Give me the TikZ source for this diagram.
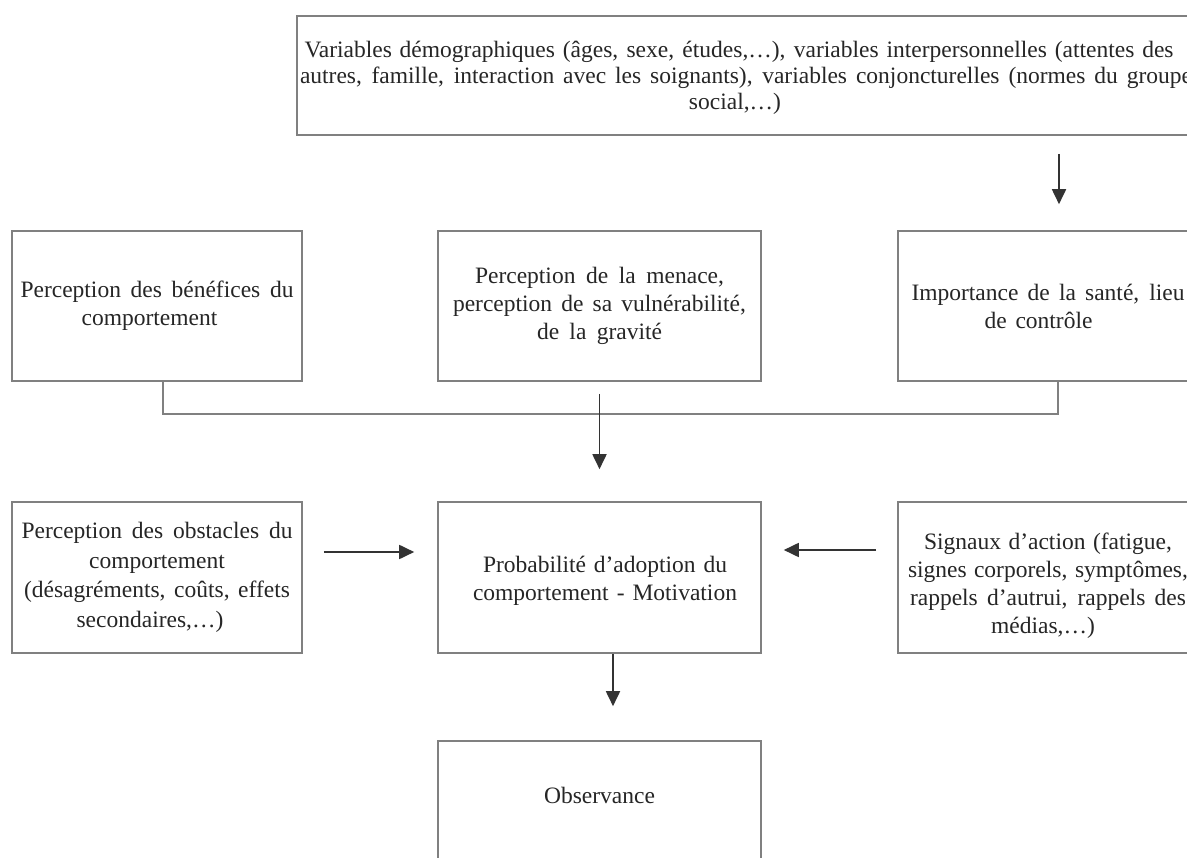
\documentclass[tikz,border=0pt]{standalone}
\usepackage{fontspec}
\setmainfont{Liberation Serif}
\usetikzlibrary{arrows.meta,calc}
\newcommand\jl[2]{\makebox[#1pt][s]{#2}}
\begin{document}
\begin{tikzpicture}[x=1pt,y=-1pt,
  blk/.style={draw=black!50, line width=1.6pt, fill=white, inner sep=0pt, align=center,
    text=black!85, font=\fontsize{23.5}{28}\selectfont},
  arr/.style={draw=black!80, line width=1.8pt, -{Triangle[length=15pt,width=14pt]}},
  lnk/.style={draw=black!50, line width=1.6pt}]
\useasboundingbox (0,0) rectangle (1187,858);
\clip (0,0) rectangle (1187,858);
\fill[white] (0,0) rectangle (1187,858);

\node[blk, minimum width=898pt, minimum height=119pt, font=\fontsize{23.5}{26}\selectfont] (top) at (746,75.5)
  {\rule{0pt}{21pt}\jl{869}{Variables démographiques (âges, sexe, études,…), variables interpersonnelles (attentes des}\hspace*{14pt}\\
   \jl{892}{autres, famille, interaction avec les soignants), variables conjoncturelles (normes du groupe}\\
   social,…)\hspace*{22pt}};

\node[blk, minimum width=290pt, minimum height=150pt] (ben) at (157,306)
  {\jl{273}{Perception des bénéfices du}\\ comportement\hspace*{15pt}};
\node[blk, minimum width=323pt, minimum height=150pt] (men) at (599.5,306)
  {\jl{249}{Perception de la menace,}\\ \jl{293}{perception de sa vulnérabilité,}\\ \jl{125}{de la gravité}};
\node[blk, minimum width=300pt, minimum height=150pt] (imp) at (1048,306)
  {\jl{273}{Importance de la santé, lieu}\\ \jl{108}{de contrôle}\hspace*{19pt}};

\node[blk, minimum width=290pt, minimum height=151pt, font=\fontsize{23.5}{29.5}\selectfont] (obs) at (157,577.5)
  {\jl{271}{Perception des obstacles du}\\ comportement\hspace*{17pt}\\
   \jl{266}{(désagréments, coûts, effets}\hspace*{5pt}\\ secondaires,…)\hspace*{14pt}};
\node[blk, minimum width=323pt, minimum height=151pt] (prob) at (599.5,577.5)
  {\rule{0pt}{24pt}\hspace*{11pt}\jl{244}{Probabilité d’adoption du}\\ \hspace*{11pt}\jl{264}{comportement - Motivation}};
\node[blk, minimum width=300pt, minimum height=151pt] (sig) at (1048,577.5)
  {\rule{0pt}{34pt}\jl{248}{Signaux d’action (fatigue,}\\ \jl{280}{signes corporels, symptômes,}\hspace*{-4pt}\\
   \jl{276}{rappels d’autrui, rappels des}\hspace*{-2pt}\\ médias,…)\hspace*{10pt}};

\node[blk, minimum width=323pt, minimum height=150pt, text height=14pt, text depth=40pt] (obsv) at (599.5,816) {Observance};

% connectors
\draw[arr, shorten <=18pt, shorten >=26pt] ([xshift=11pt]imp.north |- top.south) -- ([xshift=11pt]imp.north);
\draw[lnk] ([xshift=6pt]ben.south) -- ++(0,32) -| ([xshift=10pt]imp.south);
\draw[arr, shorten <=12pt, shorten >=32pt] (men.south) -- (prob.north);
\draw[arr, shorten <=21pt, shorten >=23pt] ([yshift=25.5pt]obs.east) -- ([yshift=25.5pt]prob.west);
\draw[arr, shorten <=21pt, shorten >=22pt] ([yshift=27.5pt]sig.west) -- ([yshift=27.5pt]prob.east);
\draw[arr, shorten >=34pt] ([xshift=13.5pt]prob.south) -- ([xshift=13.5pt]obsv.north);
\end{tikzpicture}
\end{document}
